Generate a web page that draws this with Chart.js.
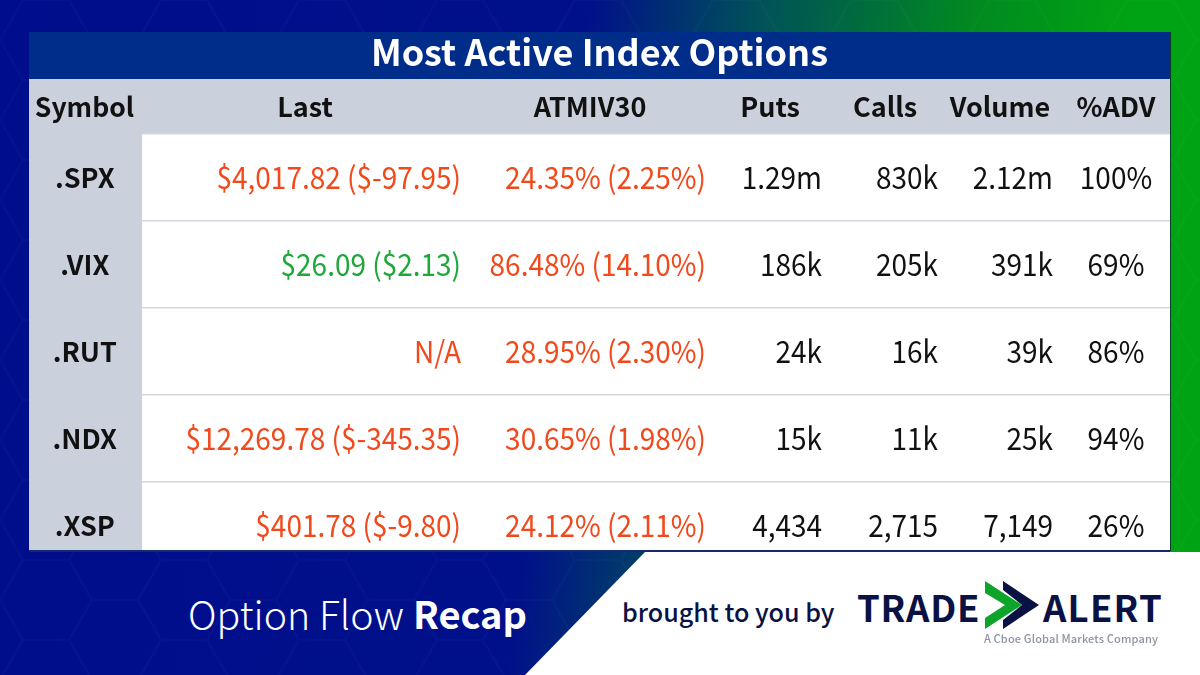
<!DOCTYPE html>
<html>
<head>
<meta charset="utf-8">
<script src="https://cdn.jsdelivr.net/npm/chart.js"></script>
<style>
  html, body { margin: 0; padding: 0; }
  body { width: 1200px; height: 675px; overflow: hidden; position: relative; font-family: "Noto Sans CJK JP", sans-serif;
    background: linear-gradient(97deg, #000d8c 0%, #00108a 46%, #00505a 59%, #008a20 76%, #00a313 88%, #00a313 100%); }
  #hex { position: absolute; left: 0; top: 0; }
  #tableClip { position: absolute; left: 0; top: 0; width: 1200px; height: 551px; overflow: hidden; }
  #rule { position: absolute; left: 29px; top: 550px; width: 1141px; height: 2px; background: #14296e; }
  #whiteCorner { position: absolute; left: 0; top: 0; width: 1200px; height: 675px; background: #fff;
    clip-path: polygon(645px 552px, 1200px 552px, 1200px 675px, 525px 675px); }
  .txt { position: absolute; white-space: nowrap; line-height: 1; }
  #flow { left: 188px; top: 593px; font-size: 39.3px; color: #fff; font-weight: 300; }
  #recap { left: 413px; top: 594px; font-size: 38px; color: #fff; font-weight: 700; }
  #brought { left: 622px; top: 599px; font-size: 25.1px; font-weight: 500; color: #0a1244; }
  .logo { top: 589px; font-size: 36.5px; font-weight: 700; color: #0a1244; }
  #cboe { left: 984px; top: 633px; font-size: 11px; font-weight: 500; color: #8d93a3; letter-spacing: .15px; }
  #chev { position: absolute; left: 0; top: 0; }
</style>
</head>
<body>
<svg id="hex" width="1200" height="675">
  <defs>
    <pattern id="hexes" width="138" height="80" patternUnits="userSpaceOnUse">
      <path d="M0 40 L23 0 L69 0 L92 40 L69 80 L23 80 Z M92 40 L138 40" fill="none" stroke="#ffffff" stroke-opacity="0.02" stroke-width="2"/>
    </pattern>
  </defs>
  <rect width="1200" height="675" fill="url(#hexes)"/>
</svg>
<div id="tableClip"><canvas id="board" width="1200" height="675"></canvas></div>
<div id="rule"></div>
<div id="whiteCorner"></div>
<div class="txt" id="flow">Option Flow</div>
<div class="txt" id="recap">Recap</div>
<div class="txt" id="brought">brought to you by</div>
<div class="txt logo" style="left:857px;letter-spacing:.8px">TRADE</div>
<div class="txt logo" style="left:1043px;letter-spacing:1.2px">ALERT</div>
<svg id="chev" width="1200" height="675">
  <polygon points="1003,581 1039,605 1003,629 1003,620 1022,605 1003,590" fill="#0a1244"/>
  <polygon points="985,581 1022,605 985,629 985,618 1005,605 985,593" fill="#0ea32a"/>
</svg>
<div class="txt" id="cboe">A Cboe Global Markets Company</div>

<script>
const FONT = "'Noto Sans CJK JP'";

const title = "Most Active Index Options";
const symbolHeader = "Symbol";
const headers = ["Last", "ATMIV30", "Puts", "Calls", "Volume", "%ADV"];
const symbols = [".SPX", ".VIX", ".RUT", ".NDX", ".XSP"];

const last = ["$4,017.82 ($-97.95)", "$26.09 ($2.13)", "N/A", "$12,269.78 ($-345.35)", "$401.78 ($-9.80)"];
const atmiv30 = ["24.35% (2.25%)", "86.48% (14.10%)", "28.95% (2.30%)", "30.65% (1.98%)", "24.12% (2.11%)"];
const puts = ["1.29m", "186k", "24k", "15k", "4,434"];
const calls = ["830k", "205k", "16k", "11k", "2,715"];
const volume = ["2.12m", "391k", "39k", "25k", "7,149"];
const adv = ["100%", "69%", "86%", "94%", "26%"];

const lastColors = ["#f2491c", "#1ea839", "#f2491c", "#f2491c", "#f2491c"];
const ivColors = ["#f2491c", "#f2491c", "#f2491c", "#f2491c", "#f2491c"];

// x scale runs in page pixels so the uneven columns are easy to line up
const headerCenters = [305, 590, 770, 885, 1000, 1116];
const columnAnchors = [461, 706, 822, 938, 1053, 1116];
const columnAligns = ["right", "right", "right", "right", "right", "center"];
const columnValues = [last, atmiv30, puts, calls, volume, adv];

const makeColumn = (values, i) => ({
  label: headers[i],
  data: symbols.map((s) => ({ x: columnAnchors[i], y: s })),
  texts: values,
  colors: i === 0 ? lastColors : i === 1 ? ivColors : symbols.map(() => "#111111"),
  align: columnAligns[i],
  pointRadius: 0,
  showLine: false,
});

const boardPlugin = {
  id: "board",
  beforeDraw(chart) {
    const { ctx, chartArea: a } = chart;
    ctx.save();
    ctx.fillStyle = "#002d8a";
    ctx.fillRect(29, 32, 1141, 47);
    ctx.fillStyle = "#cbd1dc";
    ctx.fillRect(29, 79, 1141, a.bottom - 79);
    ctx.fillStyle = "#ffffff";
    ctx.fillRect(a.left, a.top, a.right - a.left, a.bottom - a.top);
    ctx.fillStyle = "#0c3a2a";
    ctx.fillRect(1170, 32, 1, 519);
    ctx.restore();
  },
  afterDatasetsDraw(chart) {
    const { ctx, scales } = chart;
    ctx.save();
    ctx.textBaseline = "middle";
    ctx.font = `400 30.5px ${FONT}`;
    chart.data.datasets.forEach((ds, i) => {
      ctx.textAlign = ds.align;
      chart.getDatasetMeta(i).data.forEach((pt, r) => {
        // the reference face is narrower than anything installed, so squeeze it
        ctx.save();
        ctx.translate(pt.x, pt.y);
        ctx.scale(0.917, 1);
        ctx.fillStyle = ds.colors[r];
        ctx.fillText(ds.texts[r], 0, 0);
        ctx.restore();
      });
    });
    ctx.font = `700 26.5px ${FONT}`;
    ctx.fillStyle = "#111111";
    ctx.textAlign = "center";
    ctx.fillText(symbolHeader, (29 + scales.y.right) / 2 - 1, scales.x.top + scales.x.height / 2);
    ctx.restore();
  },
};

new Chart(document.getElementById("board"), {
  type: "scatter",
  data: { datasets: columnValues.map(makeColumn) },
  plugins: [boardPlugin],
  options: {
    responsive: false,
    animation: false,
    devicePixelRatio: 1,
    layout: { padding: { left: 29, right: 30, top: 32, bottom: 106 } },
    plugins: {
      legend: { display: false },
      tooltip: { enabled: false },
      title: {
        display: true,
        text: title,
        color: "#ffffff",
        font: { family: FONT, size: 36, weight: "700", lineHeight: 1 },
        padding: { top: 2, bottom: 9 },
      },
    },
    scales: {
      x: {
        type: "linear",
        position: "top",
        min: 142,
        max: 1170,
        afterBuildTicks: (scale) => { scale.ticks = headerCenters.map((value) => ({ value })); },
        afterFit: (scale) => { scale.height = 55; },
        grid: { display: false },
        border: { display: false },
        ticks: {
          autoSkip: false,
          maxRotation: 0,
          padding: 3,
          color: "#111111",
          font: { family: FONT, size: 27, weight: "700" },
          callback: (value) => headers[headerCenters.indexOf(value)],
        },
      },
      y: {
        type: "category",
        labels: symbols,
        offset: true,
        afterFit: (scale) => { scale.width = 113; },
        grid: { offset: true, drawTicks: false, color: "#d3d7df", lineWidth: 1.5 },
        border: { display: false },
        ticks: {
          crossAlign: "center",
          padding: 25,
          color: "#111111",
          font: { family: FONT, size: 27, weight: "700" },
        },
      },
    },
  },
});
</script>
</body>
</html>
